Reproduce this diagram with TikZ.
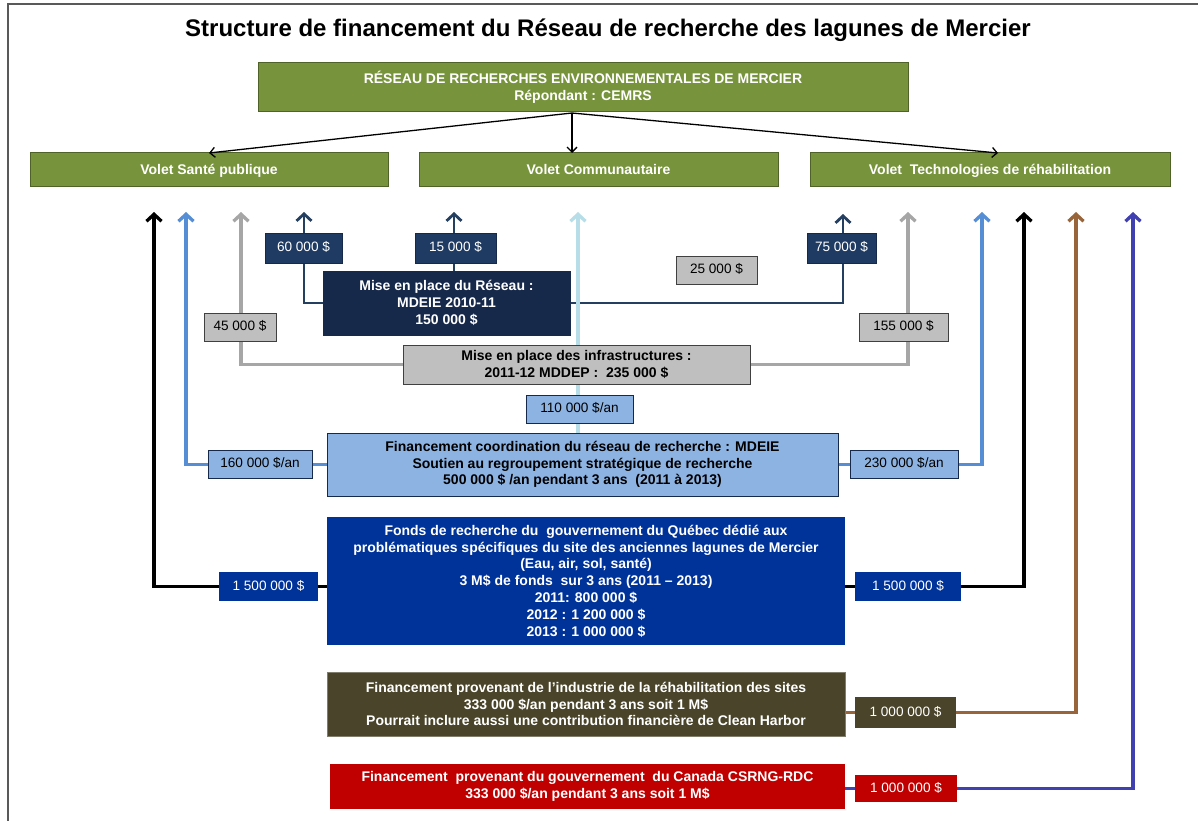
\documentclass[tikz,border=0pt]{standalone}
\usepackage{fontspec}
\setmainfont{Liberation Sans}
\usetikzlibrary{arrows.meta,backgrounds}
\definecolor{vgreen}{HTML}{77933C}
\definecolor{vgreenD}{HTML}{4F6228}
\definecolor{navyA}{HTML}{17294A}
\definecolor{navyB}{HTML}{1F3B63}
\definecolor{navyL}{HTML}{243F60}
\definecolor{grayF}{HTML}{BFBFBF}
\definecolor{grayL}{HTML}{A6A6A6}
\definecolor{lblueF}{HTML}{8DB3E2}
\definecolor{blueL}{HTML}{558ED5}
\definecolor{fondsF}{HTML}{003399}
\definecolor{indF}{HTML}{4A452A}
\definecolor{canF}{HTML}{C00000}
\definecolor{brownL}{HTML}{98643A}
\definecolor{indigoL}{HTML}{4040B0}
\definecolor{cyanL}{HTML}{B7DEE8}
\definecolor{frameC}{HTML}{595959}
\tikzset{
  box/.style={inner sep=0pt, outer sep=0pt, anchor=north west, align=center,
    font=\bfseries\fontsize{14}{16.8}\selectfont},
  amt/.style={box, font=\fontsize{13.6}{15}\selectfont, text height=9.8pt, text depth=2.6pt},
  volet/.style={box, fill=vgreen, draw=vgreenD, line width=1pt, text=white, minimum height=33,
    text height=12pt, text depth=2pt},
  navybox/.style={amt, fill=navyB, draw=navyA, line width=0.8pt, text=white, minimum height=30},
  graybox/.style={amt, fill=grayF, draw=black!75, line width=0.8pt, text=black, minimum height=28},
  lbluebox/.style={amt, fill=lblueF, draw=navyA, line width=0.8pt, text=black, minimum height=28},
  fondsbox/.style={amt, fill=fondsF, text=white, minimum height=29},
  conn/.style={line width=3.3pt, -{Straight Barb[length=7pt,width=15pt]}},
  navyconn/.style={conn, navyL, line width=2.8pt},
  thinarrow/.style={line width=1.3pt, -{Straight Barb[length=5pt,width=10pt]}},
}
\begin{document}
\begin{tikzpicture}[x=1pt,y=-1pt]
\useasboundingbox (0,0) rectangle (1198,821);

\node[font=\bfseries\fontsize{24}{28}\selectfont] (title) at (608,30)
  {Structure de financement du Réseau de recherche des lagunes de Mercier};

\node[box, fill=vgreen, draw=vgreenD, line width=1pt, text=white,
  minimum width=650, minimum height=49] (top) at (258,63)
  {RÉSEAU DE RECHERCHES ENVIRONNEMENTALES DE MERCIER\\Répondant : CEMRS};

\node[volet, minimum width=358] (vs) at (30,153) {Volet Santé publique};
\node[volet, minimum width=359] (vc) at (419,153) {Volet Communautaire};
\node[volet, minimum width=360] (vt) at (810,153) {Volet\ \ Technologies de réhabilitation};

\coordinate (src) at (572,113);
\draw[thinarrow] (src) -- (vc.north -| src);
\draw[thinarrow] (src) -- (vs.north);
\draw[thinarrow] (src) -- ([xshift=8pt]vt.north);

% top coordinates of the funding arrows
\coordinate (tbl) at (154,212);
\coordinate (tbu) at (186,212);
\coordinate (tgl) at (241,212);
\coordinate (t60) at (304,212);
\coordinate (t15) at (454,212);
\coordinate (t110) at (578,212);
\coordinate (t75) at (843,214);
\coordinate (t155) at (908,212);
\coordinate (t230) at (982,212);
\coordinate (tbr) at (1024,212);
\coordinate (tbrown) at (1076,212);
\coordinate (tind) at (1133,212);

% boxes
\node[navybox, minimum width=77] (n60) at (265,233) {60 000 \$};
\node[navybox, minimum width=81] (n15) at (415,233) {15 000 \$};
\node[navybox, minimum width=69] (n75) at (807,233) {75 000 \$};
\node[graybox, minimum width=81] (g25) at (676,256) {25 000 \$};
\node[box, fill=navyA, draw=navyA, text=white, minimum width=247, minimum height=64] (reseau) at (323,271)
  {Mise en place du Réseau :\\MDEIE 2010-11\\150 000 \$};
\node[graybox, minimum width=72] (g45) at (204,313) {45 000 \$};
\node[graybox, minimum width=89] (g155) at (859,313) {155 000 \$};
\node[box, fill=grayF, draw=black!75, line width=0.8pt, minimum width=347, minimum height=39] (mddep) at (403,345)
  {Mise en place des infrastructures :\\2011-12 MDDEP :\ \ 235 000 \$};
\node[lbluebox, minimum width=107] (b110) at (526,395) {110 000 \$/an};
\node[box, fill=lblueF, draw=navyA, line width=0.8pt, minimum width=511, minimum height=63] (coord) at (327,433)
  {Financement coordination du réseau de recherche : MDEIE\\Soutien au regroupement stratégique de recherche\\500 000 \$ /an pendant 3 ans\ \ (2011 à 2013)};
\node[lbluebox, minimum width=104] (b160) at (208,450) {160 000 \$/an};
\node[lbluebox, minimum width=108] (b230) at (850,450) {230 000 \$/an};
\node[box, fill=fondsF, text=white, minimum width=518, minimum height=128] (fonds) at (327,517)
  {Fonds de recherche du\ \ gouvernement du Québec dédié aux\\problématiques spécifiques du site des anciennes lagunes de Mercier\\(Eau, air, sol, santé)\\3 M\$ de fonds\ \ sur 3 ans (2011 – 2013)\\2011: 800 000 \$\\2012 : 1 200 000 \$\\2013 : 1 000 000 \$};
\node[fondsbox, minimum width=99] (f1) at (219,572) {1 500 000 \$};
\node[fondsbox, minimum width=106] (f2) at (855,572) {1 500 000 \$};
\node[box, fill=indF, draw=indF!70!white, line width=0.6pt, text=white, minimum width=518, minimum height=64] (ind) at (327,672)
  {Financement provenant de l’industrie de la réhabilitation des sites\\333 000 \$/an pendant 3 ans soit 1 M\$\\Pourrait inclure aussi une contribution financière de Clean Harbor};
\node[amt, fill=indF, text=white, minimum width=101, minimum height=31] (i1) at (855,697) {1 000 000 \$};
\node[box, fill=canF, text=white, minimum width=515, minimum height=45] (can) at (330,764)
  {Financement\ \ provenant du gouvernement\ \ du Canada CSRNG-RDC\\333 000 \$/an pendant 3 ans soit 1 M\$};
\node[amt, fill=canF, text=white, minimum width=102, minimum height=27] (c1) at (855,775) {1 000 000 \$};

\begin{scope}[on background layer]
  \fill[white] (0,0) rectangle (1198,821);
  \draw[frameC, line width=2pt] (1198,4) -- (8,4) -- (8,821);
  \draw[navyconn] (reseau.west) -| (t60);
  \draw[navyconn] (reseau.north -| t15) -- (t15);
  \draw[navyconn] (reseau.east) -| (t75);
  \draw[conn, grayL] (mddep.west) -| (tgl);
  \draw[conn, grayL] (mddep.east) -| (t155);
  \draw[conn, cyanL] (coord.north -| t110) -- (t110);
  \draw[conn, blueL] (coord.west) -| (tbu);
  \draw[conn, blueL] (coord.east) -| (t230);
  \draw[conn, black] (f1.center -| fonds.west) -- (f1.center) -| (tbl);
  \draw[conn, black] (f2.center -| fonds.east) -- (f2.center) -| (tbr);
  \draw[conn, brownL] (i1.center -| ind.east) -- (i1.center) -| (tbrown);
  \draw[conn, indigoL] (c1.center -| can.east) -- (c1.center) -| (tind);
\end{scope}
\end{tikzpicture}
\end{document}
